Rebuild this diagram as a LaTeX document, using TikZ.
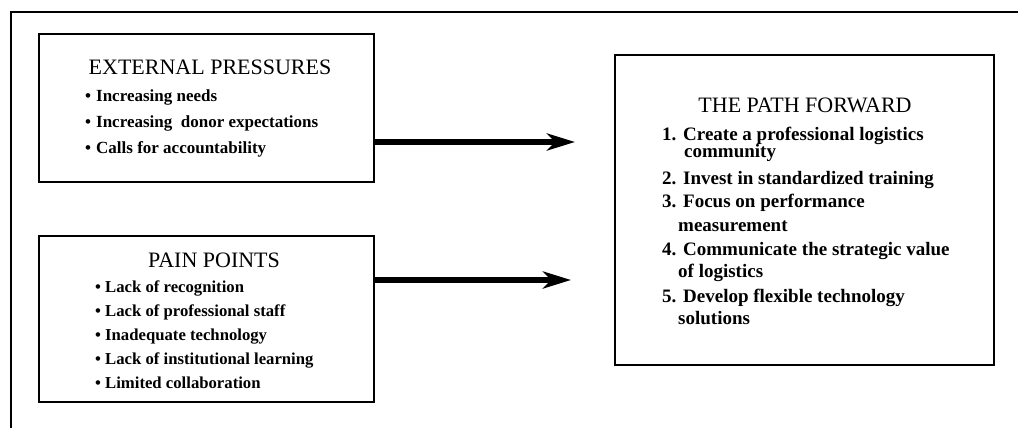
\documentclass[tikz,border=0pt]{standalone}
\usepackage{fontspec}
\setmainfont{Liberation Serif}
\usetikzlibrary{arrows.meta, positioning}

\begin{document}
\begin{tikzpicture}[
            x=1pt, y=-1pt,
            panel/.style={rectangle, draw=black, line width=1.6pt, inner sep=0pt, anchor=north west},
            heading/.style={anchor=base, inner sep=0pt, font=\fontsize{22}{24}\selectfont},
            entry/.style={anchor=base west, inner sep=0pt, font=\fontsize{#1}{20}\selectfont\bfseries},
            entry/.default=17,
            pointer/.style={-{Stealth[length=28pt, width=17pt, inset=8pt]}, line width=6pt}
        ]
            \useasboundingbox (0,0) rectangle (1018,428);
            % outer frame, cut at the right and bottom
            \draw[line width=1.6pt] (11,428) -- (11,12) -- (1018,12);

            \node[panel, minimum width=335pt, minimum height=148pt] (pressures) at (38,33) {};
            \node[panel, minimum width=335pt, minimum height=166pt] (pain) at (38,235) {};
            \node[panel, minimum width=379pt, minimum height=310pt] (forward) at (614,54) {};

            \node[heading] (pressurestitle) at (210,75) {EXTERNAL PRESSURES};
            \foreach \txt [count=\i] in {Increasing needs, Increasing\ \ donor expectations, Calls for accountability}
                \node[entry] (pressure\i) at (85,75+26*\i) {\makebox[11pt][l]{\textbullet}\txt};

            \node[heading] (paintitle) at (214,267) {PAIN POINTS};
            \foreach \txt [count=\i] in {Lack of recognition, Lack of professional staff, Inadequate technology,
                                         Lack of institutional learning, Limited collaboration}
                \node[entry=16.7] (painpoint\i) at (95,268+24*\i) {\makebox[10pt][l]{\textbullet}\txt};

            \node[heading] (forwardtitle) at (805,113) {THE PATH FORWARD};
            \foreach \px/\py/\txt [count=\i] in {
                    662/140/\makebox[21pt][l]{1.}Create a professional logistics,
                    684/157/community,
                    662/184/\makebox[21pt][l]{2.}Invest in standardized training,
                    662/207/\makebox[21pt][l]{3.}Focus on performance,
                    678/231/measurement,
                    662/255/\makebox[21pt][l]{4.}Communicate the strategic value,
                    678/277/of logistics,
                    662/302/\makebox[21pt][l]{5.}Develop flexible technology,
                    678/324/solutions}
                \node[entry=19] (forward\i) at (\px,\py) {\txt};

            \coordinate (tipA) at (575,142);
            \coordinate (tipB) at (571,280);
            \draw[pointer] (pressures.east |- tipA) -- (tipA);
            \draw[pointer] (pain.east |- tipB) -- (tipB);
        \end{tikzpicture}
\end{document}
